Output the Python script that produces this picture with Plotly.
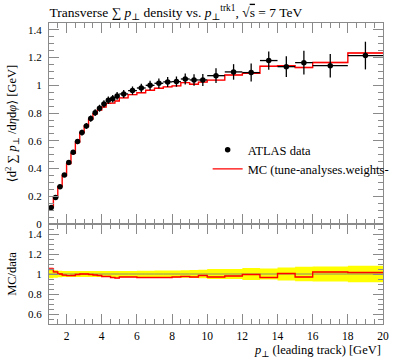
import plotly.graph_objects as go

# ---- data -------------------------------------------------------------
bin_edges = [1.0, 1.25, 1.5, 1.75, 2.0, 2.25, 2.5, 2.75, 3.0, 3.25, 3.5, 3.75,
             4.0, 4.25, 4.5, 4.75, 5.0, 5.5, 6.0, 6.5, 7.0, 7.5, 8.0, 8.5,
             9.0, 9.5, 10.0, 11.0, 12.0, 13.0, 14.0, 15.0, 16.0, 18.0, 20.0]

data_vals = [0.118, 0.190, 0.269, 0.354, 0.443, 0.517, 0.594, 0.659, 0.707,
             0.760, 0.803, 0.835, 0.866, 0.892, 0.904, 0.924, 0.938, 0.962,
             0.981, 1.000, 1.015, 1.025, 1.027, 1.046, 1.039, 1.039, 1.070,
             1.097, 1.092, 1.179, 1.135, 1.164, 1.142, 1.215]

data_errs = [0.005, 0.007, 0.009, 0.011, 0.013, 0.016, 0.018, 0.020, 0.021,
             0.023, 0.024, 0.025, 0.026, 0.027, 0.027, 0.028, 0.029, 0.030,
             0.031, 0.033, 0.035, 0.036, 0.037, 0.040, 0.041, 0.043, 0.053,
             0.056, 0.065, 0.066, 0.075, 0.085, 0.085, 0.100]

mc_vals = [0.124, 0.194, 0.269, 0.350, 0.436, 0.509, 0.591, 0.659, 0.707,
           0.756, 0.795, 0.822, 0.844, 0.870, 0.872, 0.887, 0.910, 0.933,
           0.947, 0.965, 0.979, 0.989, 0.996, 1.020, 1.008, 1.023, 1.038,
           1.075, 1.087, 1.138, 1.141, 1.129, 1.165, 1.233]

mc_errs = [0.002, 0.002, 0.003, 0.003, 0.003, 0.003, 0.004, 0.004, 0.004,
           0.004, 0.004, 0.004, 0.004, 0.004, 0.004, 0.004, 0.004, 0.004,
           0.004, 0.004, 0.004, 0.005, 0.005, 0.005, 0.005, 0.005, 0.005,
           0.005, 0.005, 0.006, 0.006, 0.006, 0.006, 0.007]

x_tick_vals = [2, 4, 6, 8, 10, 12, 14, 16, 18, 20]

title_text = ("Transverse ∑ <i>p</i><sub>⊥</sub> density vs. "
              "<i>p</i><sub>⊥</sub><sup>trk1</sup>, √<span style='text-decoration:overline'>s</span> = 7 TeV")
ytitle_main = "⟨d<sup>2</sup> ∑ <i>p</i><sub>⊥</sub> /d<i>η</i>d<i>φ</i>⟩ [GeV]"
ytitle_ratio = "MC/data"
xtitle = "<i>p</i><sub>⊥</sub> (leading track) [GeV]"
legend_data = "ATLAS data"
legend_mc = "MC (tune-analyses.weights-"

# ---- derived ------------------------------------------------------------
n = len(data_vals)
centers = [(bin_edges[i] + bin_edges[i + 1]) / 2 for i in range(n)]
halfw = [(bin_edges[i + 1] - bin_edges[i]) / 2 for i in range(n)]
step_x = bin_edges[:]


def steps(vals):
    return list(vals) + [vals[-1]]


ratio = [m / d for m, d in zip(mc_vals, data_vals)]
ratio_err = [e / d for e, d in zip(mc_errs, data_vals)]
rel = [e / d for e, d in zip(data_errs, data_vals)]

FONT = "Liberation Serif, DejaVu Serif, serif"
AX = "#8a8a8a"

fig = go.Figure()

# main panel: MC band + line
fig.add_trace(go.Scatter(x=step_x, y=steps([m - e for m, e in zip(mc_vals, mc_errs)]),
                         mode="lines", line=dict(width=0, shape="hv"),
                         showlegend=False, hoverinfo="skip", xaxis="x2", yaxis="y2"))
fig.add_trace(go.Scatter(x=step_x, y=steps([m + e for m, e in zip(mc_vals, mc_errs)]),
                         mode="lines", line=dict(width=0, shape="hv"), fill="tonexty",
                         fillcolor="rgba(255,0,0,0.35)",
                         showlegend=False, hoverinfo="skip", xaxis="x2", yaxis="y2"))
fig.add_trace(go.Scatter(x=step_x, y=steps(mc_vals), mode="lines",
                         line=dict(color="#ff0000", width=1.4, shape="hv"),
                         name=legend_mc, xaxis="x2", yaxis="y2"))
# data points
fig.add_trace(go.Scatter(x=centers, y=data_vals, mode="markers",
                         marker=dict(color="black", size=5.5, symbol="circle"),
                         error_y=dict(type="data", array=data_errs, color="black",
                                      thickness=1.3, width=0),
                         error_x=dict(type="data", array=halfw, color="black",
                                      thickness=1.3, width=0),
                         name=legend_data, xaxis="x2", yaxis="y2"))

# ratio panel
fig.add_trace(go.Scatter(x=step_x, y=steps([1 - r for r in rel]), mode="lines",
                         line=dict(width=0, shape="hv"), showlegend=False,
                         hoverinfo="skip", xaxis="x", yaxis="y"))
fig.add_trace(go.Scatter(x=step_x, y=steps([1 + r for r in rel]), mode="lines",
                         line=dict(width=0, shape="hv"), fill="tonexty",
                         fillcolor="#ffff00", showlegend=False,
                         hoverinfo="skip", xaxis="x", yaxis="y"))
fig.add_trace(go.Scatter(x=step_x, y=steps([1.0] * n), mode="lines",
                         line=dict(color="#8a8a6a", width=1, shape="hv"),
                         showlegend=False, hoverinfo="skip", xaxis="x", yaxis="y"))
fig.add_trace(go.Scatter(x=step_x, y=steps([r - e for r, e in zip(ratio, ratio_err)]),
                         mode="lines", line=dict(width=0, shape="hv"), showlegend=False,
                         hoverinfo="skip", xaxis="x", yaxis="y"))
fig.add_trace(go.Scatter(x=step_x, y=steps([r + e for r, e in zip(ratio, ratio_err)]),
                         mode="lines", line=dict(width=0, shape="hv"), fill="tonexty",
                         fillcolor="rgba(255,0,0,0.35)", showlegend=False,
                         hoverinfo="skip", xaxis="x", yaxis="y"))
fig.add_trace(go.Scatter(x=step_x, y=steps(ratio), mode="lines",
                         line=dict(color="#ff0000", width=1.4, shape="hv"),
                         showlegend=False, xaxis="x", yaxis="y"))

W, H = 397, 358
ml, mr, mt, mb = 49.4, 13.5, 23, 34
ph = H - mt - mb
split = 100 / ph

common_x = dict(range=[1, 20], tickmode="array", tickvals=x_tick_vals,
                ticks="inside", ticklen=10, tickwidth=1, tickcolor=AX,
                showline=True, linecolor=AX, linewidth=1, mirror="allticks",
                showgrid=False, zeroline=False, automargin=False,
                minor=dict(ticks="inside", ticklen=5, dtick=0.5, tick0=0,
                           tickcolor=AX, tickwidth=1, showgrid=False))
common_y = dict(ticks="inside", ticklen=10, tickwidth=1, tickcolor=AX,
                showline=True, linecolor=AX, linewidth=1, mirror="allticks",
                showgrid=False, zeroline=False, tick0=0, dtick=0.2,
                ticklabelstandoff=4, automargin=False, tickfont=dict(size=11),
                minor=dict(ticks="inside", ticklen=5, dtick=0.05, tick0=0,
                           tickcolor=AX, tickwidth=1, showgrid=False))

fig.update_layout(
    width=W, height=H,
    margin=dict(l=ml, r=mr, t=mt, b=mb, pad=0, autoexpand=False),
    paper_bgcolor="white", plot_bgcolor="white",
    font=dict(family=FONT, size=11.5, color="black"),
    title=dict(text=title_text, x=ml / W, xanchor="left", y=1 - 12 / H,
               yanchor="middle", font=dict(size=13.5)),
    xaxis=dict(domain=[0, 1], anchor="y", showticklabels=True,
               ticklabelstandoff=1, **common_x),
    xaxis2=dict(domain=[0, 1], anchor="y2", matches="x", showticklabels=False,
                **common_x),
    yaxis=dict(domain=[0, split], anchor="x", range=[0.5, 1.5],
               title=dict(text=ytitle_ratio, standoff=8, font=dict(size=12.5)),
               **common_y),
    yaxis2=dict(domain=[split, 1], anchor="x2", range=[-0.0005, 1.45],
                title=dict(text=ytitle_main, standoff=8, font=dict(size=12.5)),
                **common_y),
    legend=dict(x=0.475, y=1 - (135 - mt) / ph, xanchor="left", yanchor="top",
                bgcolor="rgba(0,0,0,0)", font=dict(size=12.5), tracegroupgap=0,
                traceorder="reversed", itemwidth=30),
    showlegend=True,
)

fig.add_annotation(text=xtitle, xref="paper", yref="paper", x=1, y=0,
                   xanchor="right", yanchor="top", yshift=-17, showarrow=False,
                   font=dict(size=12.5))

fig.write_html("out.html", config={"displayModeBar": False},
               post_script="document.body.style.margin='0';document.body.style.overflow='hidden';")
